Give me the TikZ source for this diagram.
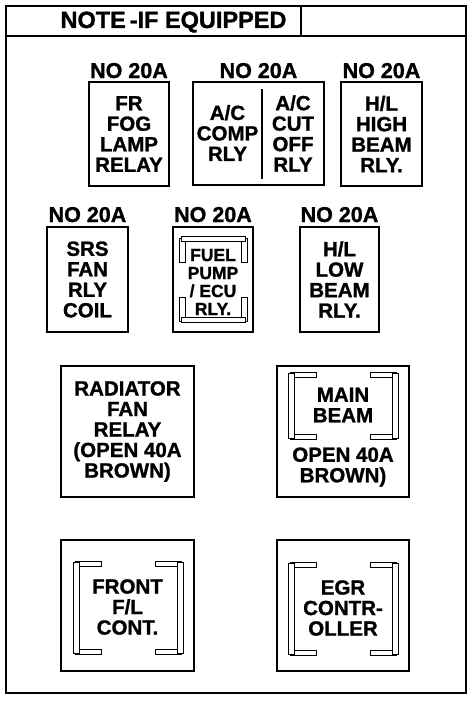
\documentclass[tikz,border=0pt]{standalone}
\usepackage{fontspec}
\setmainfont{Liberation Sans}[BoldFeatures={FakeBold=1.2}]
\tikzset{
  box/.style={draw, line width=1.8pt, inner sep=0pt, align=center,
    font=\fontsize{20.5}{20.5}\selectfont\bfseries},
  txt/.style={inner sep=0pt, align=center, font=\fontsize{20.5}{20.5}\selectfont\bfseries},
  small/.style={inner sep=0pt, align=center, font=\fontsize{17.5}{18}\selectfont\bfseries},
  lbl/.style={inner sep=0pt, anchor=base, font=\fontsize{21.5}{21.5}\selectfont\bfseries},
  brk/.style={draw, line width=0.9pt, fill=white},
  frame/.style={draw, line width=2pt}
}
\newcommand{\relaybrk}[4]{% x1 y1 x2 y2, vertical brackets
  \draw[brk] (#1+2,#2-1) rectangle (#1+28,#2+4);
  \draw[brk] (#1+2,#4-4) rectangle (#1+28,#4+1);
  \draw[brk] (#3-28,#2-1) rectangle (#3-2,#2+4);
  \draw[brk] (#3-28,#4-4) rectangle (#3-2,#4+1);
  \draw[brk] (#1,#2) rectangle (#1+6,#4);
  \draw[brk] (#3-6,#2) rectangle (#3,#4);
}
\begin{document}
\begin{tikzpicture}[x=1pt,y=-1pt]
\useasboundingbox (0,0) rectangle (474,701);
% outer frame and header
\draw[frame] (6,6) rectangle (466,693);
\draw[frame] (6,36) -- (466,36);
\draw[frame] (301,6) -- (301,36);
\node[lbl, font=\fontsize{23.5}{23.5}\selectfont\bfseries] (hdr) at (173.5,28) {NOTE\,-IF EQUIPPED};

% row 1
\node[box, minimum width=80pt, minimum height=104pt] (fr) at (129,134) {FR\\FOG\\LAMP\\RELAY};
\node[lbl] (frl) at (129,78) {NO 20A};
\node[box, minimum width=131pt, minimum height=103pt] (ac) at (258.5,133.5) {};
\draw[line width=1.3pt] (262,89) -- (262,179);
\node[txt] (acl) at (227.5,133) {A/C\\COMP\\RLY};
\node[txt] (acr) at (293,133.5) {A/C\\CUT\\OFF\\RLY};
\node[lbl] (acla) at (258.5,78) {NO 20A};
\node[box, minimum width=81pt, minimum height=104pt] (hh) at (381.5,134) {H/L\\HIGH\\BEAM\\RLY.};
\node[lbl] (hhl) at (381.5,78) {NO 20A};

% row 2
\node[box, minimum width=81pt, minimum height=105pt] (srs) at (87.5,279.5) {SRS\\FAN\\RLY\\COIL};
\node[lbl] (srsl) at (87.5,222) {NO 20A};
\node[box, minimum width=80pt, minimum height=105pt] (fuel) at (213,279.5) {};
\node[lbl] (fuell) at (213,222) {NO 20A};
% horizontal brackets inside fuel box
\draw[brk] (179,238) rectangle (185,262);
\draw[brk] (241,238) rectangle (247,262);
\draw[brk] (179,297) rectangle (185,321);
\draw[brk] (241,297) rectangle (247,321);
\draw[brk] (181,236) rectangle (245,241);
\draw[brk] (181,317) rectangle (245,322);
\node[small] (fuelt) at (213,282) {FUEL\\PUMP\\/ ECU\\RLY.};
\node[box, minimum width=79pt, minimum height=105pt] (hl) at (339.5,279.5) {H/L\\LOW\\BEAM\\RLY.};
\node[lbl] (hll) at (339.5,222) {NO 20A};

% row 3
\node[box, minimum width=133pt, minimum height=131pt] (rad) at (127.5,431.5) {RADIATOR\\FAN\\RELAY\\(OPEN 40A\\BROWN)};
\node[box, minimum width=132pt, minimum height=131pt] (main) at (343,431.5) {};
\relaybrk{288}{373}{398}{438}
\node[txt] (mb1) at (343,405) {MAIN\\BEAM};
\node[txt] (mb2) at (343,467) {OPEN 40A\\BROWN)};

% row 4
\node[box, minimum width=133pt, minimum height=131pt] (front) at (127.5,605.5) {};
\relaybrk{73}{562}{183}{653}
\node[txt] (frontt) at (127.5,607) {FRONT\\F/L\\CONT.};
\node[box, minimum width=132pt, minimum height=131pt] (egr) at (343,605.5) {};
\relaybrk{288}{563}{398}{654}
\node[txt] (egrt) at (343,608) {EGR\\CONTR-\\OLLER};
\end{tikzpicture}
\end{document}
